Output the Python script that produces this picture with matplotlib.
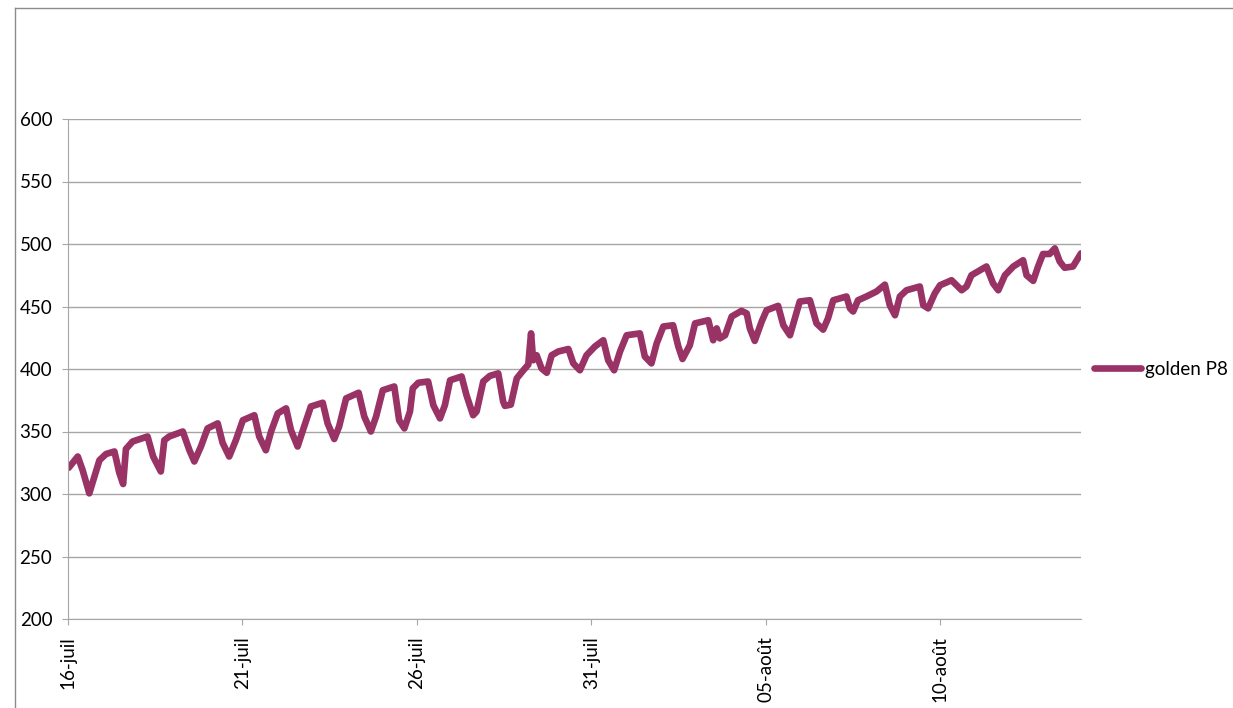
import pandas as pd
import matplotlib
matplotlib.use('Agg')
import matplotlib.pyplot as plt
from matplotlib.lines import Line2D

plt.rcParams['font.family'] = ['Lato', 'DejaVu Sans']

# time in days since 16-juil
t_days = [0.02, 0.28, 0.42, 0.61, 0.90, 1.09, 1.33, 1.47, 1.58, 1.66, 1.85, 2.28, 2.44, 2.66,
          2.76, 2.90, 3.29, 3.48, 3.62, 3.81, 4.00, 4.29, 4.43, 4.62, 4.81, 5.01, 5.34, 5.48,
          5.67, 5.82, 6.01, 6.25, 6.39, 6.58, 6.72, 6.96, 7.30, 7.44, 7.63, 7.77, 7.97, 8.33,
          8.49, 8.68, 8.83, 9.02, 9.35, 9.49, 9.64, 9.80, 9.88, 10.04, 10.32, 10.47, 10.66,
          10.80, 10.95, 11.28, 11.42, 11.61, 11.71, 11.90, 12.09, 12.33, 12.47, 12.52, 12.69,
          12.86, 13.05, 13.19, 13.27, 13.33, 13.43, 13.57, 13.72, 13.86, 14.05, 14.34, 14.48,
          14.67, 14.86, 15.10, 15.34, 15.48, 15.65, 15.82, 16.01, 16.39, 16.53, 16.72, 16.87,
          17.06, 17.34, 17.49, 17.61, 17.82, 17.97, 18.35, 18.49, 18.59, 18.68, 18.83, 19.02,
          19.30, 19.45, 19.54, 19.68, 19.88, 20.02, 20.35, 20.50, 20.69, 20.83, 20.97, 21.26,
          21.45, 21.64, 21.78, 21.93, 22.31, 22.41, 22.50, 22.64, 22.88, 23.17, 23.41, 23.55,
          23.70, 23.84, 24.03, 24.41, 24.51, 24.65, 24.84, 24.99, 25.32, 25.61, 25.75, 25.89,
          26.32, 26.51, 26.66, 26.85, 27.09, 27.37, 27.47, 27.66, 27.80, 27.94, 28.13, 28.28,
          28.42, 28.56, 28.80, 29.03]
golden_p8 = [321, 330, 319, 300.5, 327, 332, 334, 317, 308, 336, 342, 346, 330, 318,
             343, 346, 350, 335, 326, 338, 352.5, 356.5, 341, 330, 343, 359, 363, 346,
             335, 350, 364.5, 368.5, 351, 338, 350, 370, 373, 356.5, 344, 354, 376.5, 381,
             362, 350, 362, 383, 386, 359, 352.5, 366, 384.5, 389, 390, 371, 360.5,
             371, 391, 394, 379, 363, 366, 390, 394.5, 396.5, 374, 370.5, 371.5,
             392.5, 399, 403.5, 428.5, 407, 411, 400.5, 397, 411, 414, 416, 404.5,
             399, 411, 418, 423, 407, 399, 414, 427, 428.5, 410, 404.5, 420.5,
             434, 435, 418, 408, 419, 436.5, 439, 423, 432.5, 424.5, 427, 442,
             446.5, 444.5, 432.5, 422.5, 438, 447, 450.5, 435, 427, 440.5, 454, 455,
             436.5, 431.5, 440.5, 455, 458, 448.5, 446, 455, 458, 462, 467.5, 451,
             443, 458, 463, 466, 451, 448.5, 460.5, 467, 471, 463, 466, 475,
             482, 468.5, 463, 475, 482, 487, 475, 470.5, 482, 492, 492, 496.5,
             486, 481, 482, 492.5]
tick_labels = ['16-juil', '21-juil', '26-juil', '31-juil', '05-août', '10-août']

start = pd.Timestamp('2011-07-16')
dates = start + pd.to_timedelta(t_days, unit='D')
tick_dates = pd.date_range(start, periods=len(tick_labels), freq='5D')

fig = plt.figure(figsize=(12.33, 7.08), dpi=100)
ax = fig.add_axes([68 / 1233, 1 - 619 / 708, (1081 - 68) / 1233, 500 / 708])

ax.plot(dates, golden_p8, color='#993366', lw=4.8, label='golden P8',
        solid_joinstyle='round', solid_capstyle='round')

ax.set_ylim(200, 600)
ax.set_yticks(range(200, 601, 50))
ax.set_xlim(start, start + pd.Timedelta(days=29.03))
ax.set_xticks(tick_dates)
ax.set_xticklabels(tick_labels, rotation=90)

ax.grid(axis='y', color='#a6a6a6', lw=1)
ax.set_axisbelow(True)
for side in ['top', 'right']:
    ax.spines[side].set_visible(False)
for side in ['left', 'bottom']:
    ax.spines[side].set_color('#a6a6a6')
ax.tick_params(axis='y', length=4.3, color='#a6a6a6', pad=7, labelsize=13.5)
ax.tick_params(axis='x', length=4.3, color='#a6a6a6', pad=8, labelsize=13.5)

ax.legend(loc='center left', bbox_to_anchor=(1.0, 0.5), frameon=False, fontsize=13.5,
          handlelength=2.5, handletextpad=0.2, borderaxespad=0, borderpad=0.7)

# outer chart border (only left and top edges visible in the crop)
fig.add_artist(Line2D([15 / 1233, 15 / 1233], [0, 1 - 8 / 708], transform=fig.transFigure,
                      color='#8c8c8c', lw=1))
fig.add_artist(Line2D([15 / 1233, 1], [1 - 8 / 708, 1 - 8 / 708], transform=fig.transFigure,
                      color='#8c8c8c', lw=1))

fig.savefig('out.png', dpi=100)
